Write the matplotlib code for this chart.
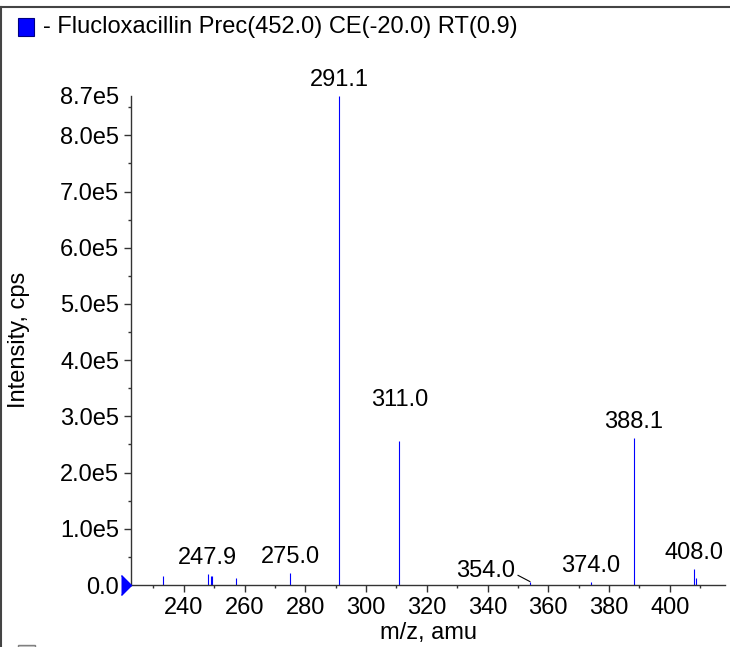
import matplotlib
matplotlib.use("Agg")
import matplotlib.pyplot as plt
from matplotlib.patches import Rectangle
from matplotlib.lines import Line2D

plt.rcParams['font.family'] = ['Liberation Sans', 'DejaVu Sans']

# peaks
mz = [233.2, 248.0, 248.9, 249.3, 257.1, 275.0, 291.1, 311.0, 354.0, 374.0, 388.1, 408.0, 408.6]
intensity = [1.6e4, 1.95e4, 1.55e4, 1.6e4, 1.25e4, 2.2e4, 8.7e5, 2.57e5, 6e3, 6e3, 2.62e5, 2.86e4, 1.25e4]

label_mz = [247.9, 275.0, 291.1, 311.0, 354.0, 374.0, 388.1, 408.0]
label_int = [1.95e4, 2.2e4, 8.7e5, 2.57e5, 6e3, 6e3, 2.62e5, 2.86e4]
label_text = ["247.9", "275.0", "291.1", "311.0", "354.0", "374.0", "388.1", "408.0"]

yticks = [0, 1e5, 2e5, 3e5, 4e5, 5e5, 6e5, 7e5, 8e5, 8.7e5]
ytick_labels = ["0.0", "1.0e5", "2.0e5", "3.0e5", "4.0e5", "5.0e5", "6.0e5", "7.0e5", "8.0e5", "8.7e5"]

title = "- Flucloxacillin Prec(452.0) CE(-20.0) RT(0.9)"

W, H = 730, 647
L, R = 131, 725
fig = plt.figure(figsize=(W / 100, H / 100), dpi=100)
ax = fig.add_axes([L / W, (H - 585) / H, (R - L) / W, (585 - 96) / H])

ax.vlines(mz, 0, intensity, color="#0000ff", lw=0.8)

fs = 17
for m, v, t in zip(label_mz, label_int, label_text):
    if t == "354.0":
        ax.annotate(t, (m, v), xytext=(-32, 8), textcoords="offset points",
                    ha="center", va="center", fontsize=fs,
                    arrowprops=dict(arrowstyle="-", color="black", lw=0.8,
                                    shrinkA=0, shrinkB=0, relpos=(1.0, 0.35)))
    else:
        dy = 21 if t == "311.0" else 3.5
        ax.annotate(t, (m, v), xytext=(0, dy), textcoords="offset points",
                    ha="center", va="bottom", fontsize=fs)

ax.set_xlim(222.6, 418.2)
ax.set_ylim(0, 8.7e5)
ax.set_xticks(range(240, 401, 20))
ax.set_xticks(range(230, 411, 10), minor=True)
ax.set_yticks(yticks)
ax.set_yticklabels(ytick_labels)
ax.set_yticks([i * 5e4 for i in range(18)], minor=True)
ax.yaxis.get_major_ticks()[-1].tick1line.set_visible(False)

for s in ["top", "right"]:
    ax.spines[s].set_visible(False)
for s in ["left", "bottom"]:
    ax.spines[s].set_color("#333333")
    ax.spines[s].set_linewidth(1.0)
ax.tick_params(which="major", length=5, width=1, color="#333333", labelsize=fs, pad=3.5)
ax.tick_params(which="minor", length=2.5, width=1, color="#333333")

ax.set_xlabel("m/z, amu", fontsize=fs, labelpad=2)
ax.set_ylabel("Intensity, cps", fontsize=fs)
ax.yaxis.set_label_coords(-(L - 30) / (R - L), (585 - 340) / (585 - 96))

# triangle marker at zero, tip touching the axis
ax.plot([222.6], [0], marker=[(-1, -1), (0, 0), (-1, 1)], markersize=14.4,
        color="#0000ff", clip_on=False, zorder=5)

# frame and legend swatches
fig.add_artist(Line2D([0, 1], [(H - 6.5) / H, (H - 6.5) / H], color="#444444", lw=1.5))
fig.add_artist(Line2D([1.5 / W, 1.5 / W], [0, (H - 6.5) / H], color="#444444", lw=1.5))
fig.add_artist(Rectangle((18 / W, (H - 36) / H), 16 / W, 18 / H, facecolor="#0000ff",
                         edgecolor="#000080", lw=0.8))
fig.add_artist(Rectangle((18 / W, -10 / H), 17 / W, 12 / H, facecolor="#d0d0d0",
                         edgecolor="#808080", lw=1))
fig.text(43 / W, (H - 27) / H, title, fontsize=17, va="center", ha="left")

fig.savefig("out.png", dpi=100)
